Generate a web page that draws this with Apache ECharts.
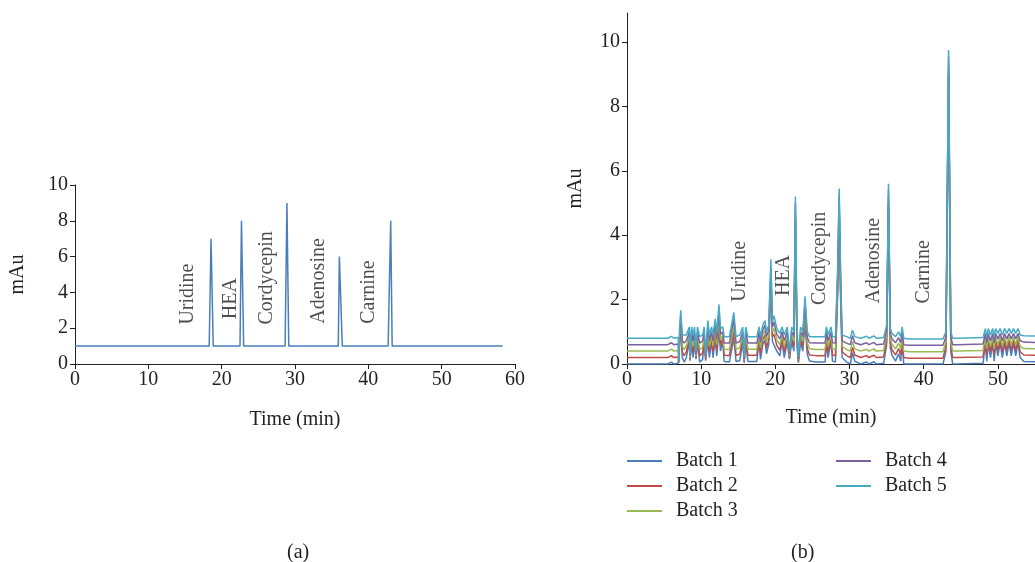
<!DOCTYPE html>
<html>
<head>
<meta charset="utf-8">
<script src="https://cdn.jsdelivr.net/npm/echarts@6/dist/echarts.min.js"></script>
<style>
html,body{margin:0;padding:0;background:#fff}
#main{width:1035px;height:562px}
</style>
</head>
<body>
<div id="main"></div>
<script>
// (a) standard mix
var timeA = [0, 18.3, 18.55, 18.85, 22.5, 22.7, 23.0, 28.65, 28.9, 29.15, 35.9, 36.05, 36.45, 42.7, 43.05, 43.25, 58.3];
var mauA  = [1, 1, 7, 1, 1, 8, 1, 1, 9, 1, 1, 6, 1, 1, 8, 1, 1];

var compounds = ['Uridine', 'HEA', 'Cordycepin', 'Adenosine', 'Carnine'];
var labelTimeA = [15.4, 21.3, 26.2, 33.3, 40.1];
var labelMauA  = [2.2, 2.5, 2.2, 2.25, 2.25];
var labelTimeB = [15.2, 21.1, 26.0, 33.2, 40.0];
var labelMauB  = [1.93, 2.11, 1.83, 1.88, 1.88];

// (b) five batches
var timeB = [0,5.5,6.0,6.3,6.9,7.0,7.1,7.25,7.45,7.7,
  8.0,8.4,8.5,8.7,8.9,9.1,9.3,9.5,9.8,10.2,
  10.4,10.6,10.9,11.1,11.4,11.6,11.9,12.1,12.4,12.6,
  12.9,13.1,13.8,14.4,14.7,15.2,15.6,15.8,16.0,16.3,
  17.5,17.8,18.0,18.3,18.6,18.8,19.1,19.4,19.6,19.8,
  20.2,20.6,20.9,21.2,21.6,21.9,22.2,22.5,22.7,22.9,
  23.1,23.4,23.7,24.0,24.3,24.6,25.5,26.7,26.9,27.1,
  27.5,27.7,28.1,28.4,28.6,28.8,29.0,29.6,30.1,30.4,
  30.7,31.5,32.3,32.6,33.3,33.6,34.6,35.0,35.25,35.5,
  35.7,36.2,36.6,36.9,37.1,37.3,38.0,42.6,43.0,43.35,
  43.65,43.9,44.5,48.0,48.3,48.5,48.7,49.0,49.3,49.5,
  49.7,50.0,50.3,50.6,50.9,51.2,51.5,51.8,52.1,52.4,
  52.7,53.0,53.5,55.0];

var batch1 = [0.00,0.00,0.06,0.00,0.02,0.00,0.70,1.05,0.20,0.06,
  0.20,0.70,0.10,0.70,0.20,0.70,0.15,0.70,0.06,0.14,
  0.70,0.10,0.75,0.20,0.70,0.20,0.80,0.25,1.05,0.40,
  0.70,0.08,0.06,0.80,0.08,0.10,0.70,0.04,0.70,0.08,
  0.08,0.70,0.14,0.60,0.75,0.32,0.60,2.40,0.70,0.75,
  0.40,0.25,0.70,0.20,0.70,0.15,0.70,0.40,4.40,0.65,
  0.04,0.70,0.40,1.30,0.30,0.09,0.06,0.06,0.70,0.20,
  0.70,0.09,0.06,2.20,4.65,1.95,0.20,0.06,0.00,0.35,
  0.09,0.00,0.06,0.00,0.07,0.00,0.02,0.60,4.80,0.50,
  0.28,0.09,0.32,0.09,0.70,0.00,0.00,0.00,0.40,8.95,
  0.40,0.00,0.00,0.02,0.65,0.09,0.65,0.20,0.65,0.09,
  0.65,0.25,0.65,0.20,0.65,0.25,0.65,0.25,0.65,0.25,
  0.65,0.20,0.08,0.07];
var batch2 = [0.20,0.20,0.26,0.20,0.22,0.04,0.80,1.20,0.38,0.26,
  0.38,0.80,0.15,0.80,0.38,0.80,0.20,0.80,0.26,0.33,
  0.80,0.15,0.90,0.38,0.80,0.38,0.95,0.42,1.25,0.58,
  0.80,0.27,0.26,1.00,0.27,0.30,0.80,0.08,0.80,0.27,
  0.27,0.80,0.32,0.75,0.90,0.50,0.75,2.60,0.85,0.92,
  0.58,0.42,0.80,0.38,0.80,0.20,0.80,0.55,4.60,0.80,
  0.08,0.80,0.55,1.50,0.48,0.28,0.26,0.26,0.80,0.38,
  0.80,0.28,0.26,2.40,4.85,2.15,0.38,0.26,0.20,0.52,
  0.28,0.20,0.26,0.20,0.27,0.20,0.22,0.75,5.00,0.65,
  0.45,0.28,0.48,0.28,0.80,0.20,0.18,0.18,0.55,9.15,
  0.55,0.20,0.20,0.22,0.75,0.28,0.75,0.38,0.75,0.28,
  0.75,0.42,0.75,0.38,0.75,0.42,0.75,0.42,0.75,0.42,
  0.75,0.38,0.28,0.27];
var batch3 = [0.40,0.40,0.46,0.40,0.42,0.06,0.90,1.35,0.55,0.45,
  0.55,0.90,0.20,0.90,0.55,0.90,0.25,0.90,0.45,0.52,
  0.90,0.20,1.05,0.55,0.90,0.55,1.10,0.60,1.45,0.75,
  0.90,0.46,0.45,1.20,0.46,0.50,0.90,0.12,0.90,0.46,
  0.46,0.90,0.50,0.90,1.05,0.68,0.90,2.80,1.00,1.10,
  0.75,0.60,0.90,0.55,0.90,0.25,0.90,0.70,4.80,0.95,
  0.12,0.90,0.70,1.70,0.65,0.47,0.45,0.45,0.90,0.55,
  0.90,0.47,0.45,2.60,5.05,2.35,0.55,0.45,0.40,0.70,
  0.47,0.40,0.46,0.40,0.47,0.40,0.42,0.90,5.20,0.80,
  0.62,0.47,0.65,0.47,0.90,0.40,0.38,0.38,0.70,9.35,
  0.70,0.40,0.40,0.42,0.85,0.47,0.85,0.55,0.85,0.47,
  0.85,0.60,0.85,0.55,0.85,0.60,0.85,0.60,0.85,0.60,
  0.85,0.55,0.48,0.47];
var batch4 = [0.60,0.60,0.66,0.60,0.62,0.08,1.00,1.50,0.72,0.65,
  0.72,1.00,0.25,1.00,0.72,1.00,0.30,1.00,0.65,0.72,
  1.00,0.25,1.20,0.72,1.00,0.72,1.25,0.78,1.65,0.92,
  1.00,0.65,0.65,1.40,0.65,0.70,1.00,0.15,1.00,0.65,
  0.65,1.00,0.68,1.05,1.20,0.85,1.05,3.00,1.15,1.30,
  0.92,0.78,1.00,0.72,1.00,0.30,1.00,0.85,5.00,1.10,
  0.15,1.00,0.85,1.90,0.82,0.66,0.65,0.65,1.00,0.72,
  1.00,0.66,0.65,2.80,5.25,2.55,0.72,0.65,0.60,0.88,
  0.66,0.60,0.66,0.60,0.67,0.60,0.62,1.05,5.40,0.95,
  0.78,0.66,0.82,0.66,1.00,0.60,0.58,0.58,0.85,9.55,
  0.85,0.60,0.60,0.62,0.95,0.66,0.95,0.72,0.95,0.66,
  0.95,0.78,0.95,0.72,0.95,0.78,0.95,0.78,0.95,0.78,
  0.95,0.72,0.68,0.67];
var batch5 = [0.80,0.80,0.86,0.80,0.82,0.10,1.15,1.67,0.90,0.85,
  0.90,1.15,0.30,1.15,0.90,1.15,0.40,1.15,0.85,0.90,
  1.15,0.30,1.35,0.90,1.15,0.90,1.40,0.95,1.85,1.10,
  1.15,0.85,0.85,1.60,0.85,0.90,1.15,0.20,1.15,0.85,
  0.85,1.15,0.85,1.20,1.35,1.00,1.20,3.25,1.30,1.50,
  1.10,0.95,1.15,0.90,1.15,0.40,1.15,1.00,5.20,1.30,
  0.20,1.15,1.00,2.10,1.00,0.85,0.85,0.85,1.15,0.90,
  1.15,0.85,0.85,3.00,5.45,2.75,0.90,0.85,0.80,1.05,
  0.85,0.80,0.86,0.80,0.87,0.80,0.82,1.20,5.60,1.10,
  0.95,0.85,1.00,0.85,1.15,0.80,0.78,0.78,1.00,9.75,
  1.00,0.80,0.80,0.82,1.10,0.85,1.10,0.90,1.10,0.85,
  1.10,0.95,1.10,0.90,1.10,0.95,1.10,0.95,1.10,0.95,
  1.10,0.90,0.88,0.87];

var batchNames = ['Batch 1', 'Batch 2', 'Batch 3', 'Batch 4', 'Batch 5'];
var batchColors = ['#4a7ebb', '#be4b48', '#98b954', '#7d60a0', '#46aac5'];
var batches = [batch1, batch2, batch3, batch4, batch5];

var FONT = '"Liberation Serif", "DejaVu Serif", serif';
var INK = '#231f20';

function pairs(xs, ys) {
  var out = [];
  for (var i = 0; i < xs.length; i++) out.push([xs[i], ys[i]]);
  return out;
}

function labelData(ts, ms) {
  var out = [];
  for (var i = 0; i < compounds.length; i++) {
    out.push({ name: compounds[i], value: [ts[i], ms[i]] });
  }
  return out;
}

function axisX(idx, max, gap, ticks) {
  var ax = {
    type: 'value', gridIndex: idx, min: 0, max: max, interval: 10,
    name: 'Time (min)', nameLocation: 'middle', nameGap: gap,
    nameTextStyle: { fontFamily: FONT, fontSize: 20, color: INK },
    axisLine: { show: true, lineStyle: { color: INK, width: 1 } },
    axisTick: { show: true, length: 5, lineStyle: { color: INK } },
    axisLabel: { fontFamily: FONT, fontSize: 20, color: INK, margin: 6 },
    splitLine: { show: false }
  };
  if (ticks) {
    ax.axisTick.customValues = ticks;
    ax.axisLabel.customValues = ticks;
  }
  return ax;
}

function axisY(idx, max, gap, ticks) {
  var ay = {
    type: 'value', gridIndex: idx, min: 0, max: max, interval: 2,
    name: 'mAu', nameLocation: 'middle', nameGap: gap, nameRotate: 90,
    nameTextStyle: { fontFamily: FONT, fontSize: 20, color: INK },
    axisLine: { show: true, lineStyle: { color: INK, width: 1 } },
    axisTick: { show: true, length: 5, lineStyle: { color: INK } },
    axisLabel: { fontFamily: FONT, fontSize: 20, color: INK, margin: 7 },
    splitLine: { show: false }
  };
  if (ticks) {
    ay.axisTick.customValues = ticks;
    ay.axisLabel.customValues = ticks;
  }
  return ay;
}

function labelSeries(xi, data) {
  return {
    type: 'scatter', xAxisIndex: xi, yAxisIndex: xi, symbolSize: 0, silent: true,
    data: data,
    label: {
      show: true, position: 'inside', rotate: 90, align: 'left', verticalAlign: 'middle',
      formatter: '{b}', fontFamily: FONT, fontSize: 20, color: INK
    },
    z: 5
  };
}

var series = [
  {
    type: 'line', xAxisIndex: 0, yAxisIndex: 0, showSymbol: false,
    data: pairs(timeA, mauA),
    lineStyle: { color: '#4a7ebb', width: 1.5 }, itemStyle: { color: '#4a7ebb' }
  },
  labelSeries(0, labelData(labelTimeA, labelMauA))
];
batches.forEach(function (b, i) {
  series.push({
    name: batchNames[i], type: 'line', xAxisIndex: 1, yAxisIndex: 1, showSymbol: false,
    data: pairs(timeB, b),
    lineStyle: { color: batchColors[i], width: 1.5 }, itemStyle: { color: batchColors[i] }
  });
});
series.push(labelSeries(1, labelData(labelTimeB, labelMauB)));

function legend(left, names) {
  return {
    left: left, top: 451, orient: 'vertical', data: names, padding: 0,
    icon: 'rect', itemWidth: 35, itemHeight: 2, itemGap: 5,
    textStyle: { fontFamily: FONT, fontSize: 20, color: INK, lineHeight: 20, padding: [0, 0, 0, 9] }
  };
}

var option = {
  animation: false,
  backgroundColor: '#fff',
  grid: [
    { left: 75, top: 185, width: 440, height: 179, outerBoundsMode: 'none' },
    { left: 627, top: 13, width: 408, height: 351, outerBoundsMode: 'none' }
  ],
  xAxis: [axisX(0, 60, 46), axisX(1, 55, 44, [0, 10, 20, 30, 40, 50])],
  yAxis: [axisY(0, 10, 47, null), axisY(1, 10.9, 41, [0, 2, 4, 6, 8, 10])],
  legend: [legend(627, batchNames.slice(0, 3)), legend(836, batchNames.slice(3))],
  graphic: [
    { type: 'text', left: 287, top: 543, style: { text: '(a)', font: '20px ' + FONT, fill: INK } },
    { type: 'text', left: 791, top: 543, style: { text: '(b)', font: '20px ' + FONT, fill: INK } }
  ],
  series: series
};

var chart = echarts.init(document.getElementById('main'));
chart.setOption(option);
</script>
</body>
</html>
